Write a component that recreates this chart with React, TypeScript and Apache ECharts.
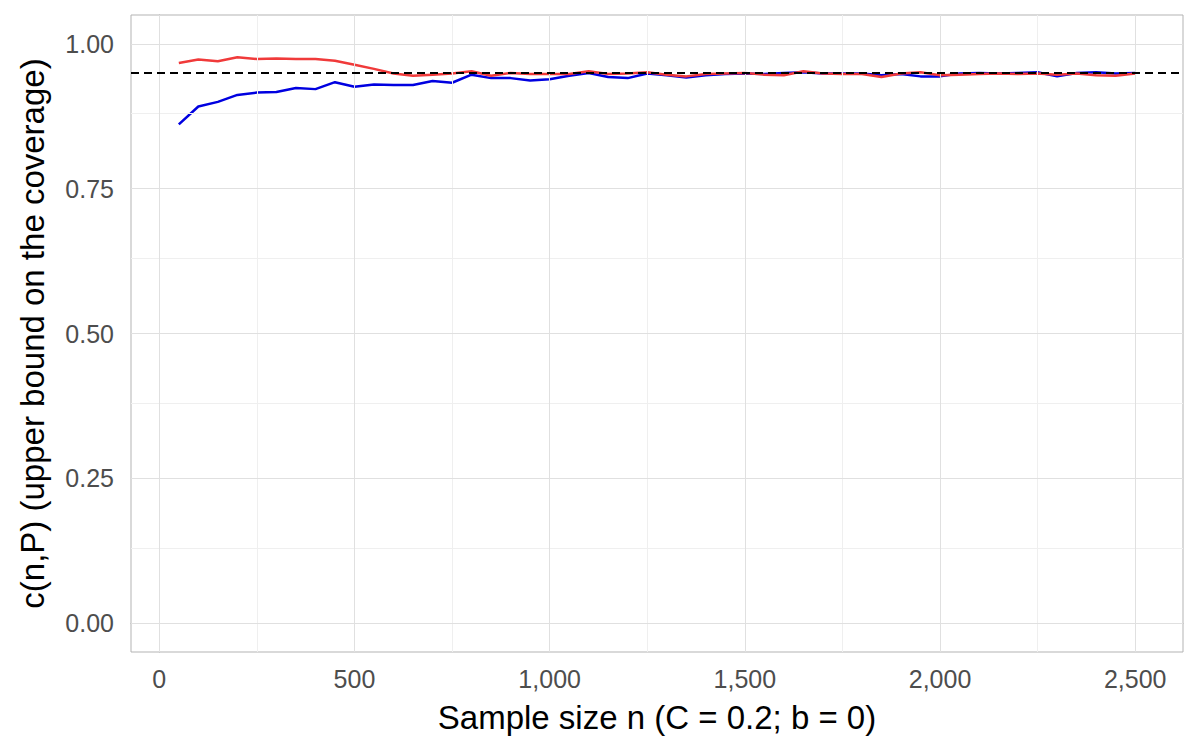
import React, { useEffect, useRef } from "react";
import * as echarts from "echarts";

const sampleSizes = [
  50, 100, 150, 200, 250, 300, 350, 400, 450, 500,
  550, 600, 650, 700, 750, 800, 850, 900, 950, 1000,
  1050, 1100, 1150, 1200, 1250, 1300, 1350, 1400, 1450, 1500,
  1550, 1600, 1650, 1700, 1750, 1800, 1850, 1900, 1950, 2000,
  2050, 2100, 2150, 2200, 2250, 2300, 2350, 2400, 2450, 2500,
];

const blueValues = [
  0.861, 0.892, 0.900, 0.912, 0.916, 0.917, 0.924, 0.922, 0.934, 0.926,
  0.930, 0.929, 0.929, 0.936, 0.933, 0.947, 0.941, 0.941, 0.937, 0.939,
  0.945, 0.950, 0.943, 0.941, 0.949, 0.946, 0.942, 0.946, 0.948, 0.949,
  0.948, 0.950, 0.951, 0.949, 0.949, 0.949, 0.946, 0.948, 0.944, 0.944,
  0.949, 0.950, 0.949, 0.950, 0.951, 0.944, 0.950, 0.951, 0.949, 0.950,
];

const redValues = [
  0.967, 0.973, 0.970, 0.977, 0.974, 0.975, 0.974, 0.974, 0.971, 0.964,
  0.957, 0.949, 0.945, 0.947, 0.949, 0.953, 0.945, 0.950, 0.948, 0.948,
  0.948, 0.953, 0.948, 0.949, 0.951, 0.947, 0.944, 0.948, 0.949, 0.950,
  0.947, 0.946, 0.953, 0.949, 0.948, 0.948, 0.943, 0.949, 0.951, 0.946,
  0.947, 0.948, 0.949, 0.948, 0.949, 0.947, 0.949, 0.946, 0.945, 0.949,
];

const nominalLevel = 0.95;

const xMajorTicks = [0, 500, 1000, 1500, 2000, 2500];
const xMinorTicks = [250, 750, 1250, 1750, 2250];
const yMajorTicks = [0, 0.25, 0.5, 0.75, 1.0];
const yMinorTicks = [0.125, 0.375, 0.625, 0.875];

const xTitle = "Sample size n (C = 0.2; b = 0)";
const yTitle = "c(n,P) (upper bound on the coverage)";

const FONT = "'Liberation Sans', Arial, Helvetica, sans-serif";

export default function App() {
  const ref = useRef<HTMLDivElement>(null);

  useEffect(() => {
    if (!ref.current) return;
    const chart = echarts.init(ref.current, null, { renderer: "svg" });

    const gridLines = [
      ...yMinorTicks.map((v) => ({ yAxis: v, lineStyle: { color: "#efefef", width: 1, type: "solid" } })),
      ...xMinorTicks.map((v) => ({ xAxis: v, lineStyle: { color: "#efefef", width: 1, type: "solid" } })),
      ...yMajorTicks.map((v) => ({ yAxis: v, lineStyle: { color: "#e0e0e0", width: 1, type: "solid" } })),
      ...xMajorTicks.map((v) => ({ xAxis: v, lineStyle: { color: "#e0e0e0", width: 1, type: "solid" } })),
    ];

    const option: any = {
      animation: false,
      backgroundColor: "#ffffff",
      grid: {
        left: 131,
        top: 15,
        width: 1052,
        height: 637,
        show: true,
        borderColor: "#b3b3b3",
        borderWidth: 1,
        backgroundColor: "transparent",
      },
      xAxis: {
        type: "value",
        min: -72.5,
        max: 2622.5,
        name: xTitle,
        nameLocation: "middle",
        nameGap: 49,
        nameTextStyle: { fontFamily: FONT, fontSize: 33, color: "#000000" },
        axisLine: { show: true, lineStyle: { color: "#b3b3b3", width: 1 } },
        axisTick: { show: true, length: 6, customValues: xMajorTicks, lineStyle: { color: "#b3b3b3", width: 1 } },
        axisLabel: {
          customValues: xMajorTicks,
          margin: 14,
          fontFamily: FONT,
          fontSize: 25,
          color: "#4d4d4d",
          formatter: (v: number) => v.toLocaleString("en-US"),
        },
        splitLine: { show: false },
      },
      yAxis: {
        type: "value",
        min: -0.05,
        max: 1.05,
        name: yTitle,
        nameLocation: "middle",
        nameGap: 82,
        nameTextStyle: { fontFamily: FONT, fontSize: 33, color: "#000000" },
        axisLine: { show: true, lineStyle: { color: "#b3b3b3", width: 1 } },
        axisTick: { show: true, length: 6, customValues: yMajorTicks, lineStyle: { color: "#b3b3b3", width: 1 } },
        axisLabel: {
          customValues: yMajorTicks,
          margin: 17,
          fontFamily: FONT,
          fontSize: 25,
          color: "#4d4d4d",
          formatter: (v: number) => v.toFixed(2),
        },
        splitLine: { show: false },
      },
      series: [
        {
          name: "grid",
          type: "line",
          data: [],
          silent: true,
          z: 1,
          markLine: {
            silent: true,
            symbol: ["none", "none"],
            label: { show: false },
            data: gridLines,
          },
        },
        {
          name: "nominal",
          type: "line",
          data: [],
          silent: true,
          z: 2,
          markLine: {
            silent: true,
            symbol: ["none", "none"],
            label: { show: false },
            lineStyle: { color: "#000000", width: 2.2, type: [8, 5] },
            data: [{ yAxis: nominalLevel }],
          },
        },
        {
          name: "blue",
          type: "line",
          z: 3,
          showSymbol: false,
          data: sampleSizes.map((n, i) => [n, blueValues[i]]),
          lineStyle: { color: "#0000e0", width: 2.5 },
          itemStyle: { color: "#0000e0" },
        },
        {
          name: "red",
          type: "line",
          z: 4,
          showSymbol: false,
          data: sampleSizes.map((n, i) => [n, redValues[i]]),
          lineStyle: { color: "#f03a3a", width: 2.5 },
          itemStyle: { color: "#f03a3a" },
        },
      ],
    };

    chart.setOption(option);
    return () => chart.dispose();
  }, []);

  return (
    <div
      ref={ref}
      style={{ position: "fixed", left: 0, top: 0, width: 1200, height: 750, background: "#fff" }}
    />
  );
}
